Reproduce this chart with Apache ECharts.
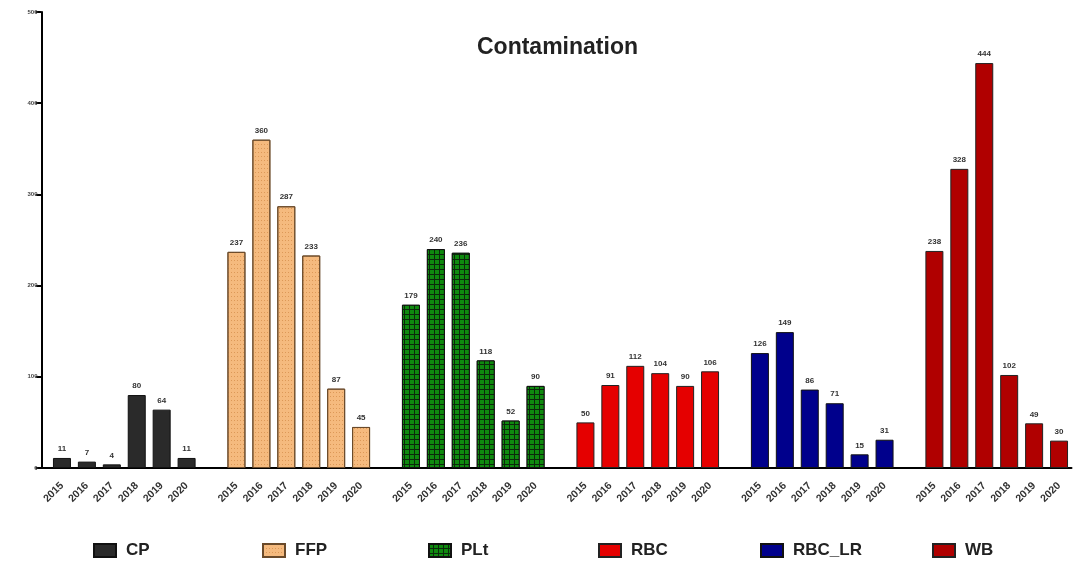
<!DOCTYPE html>
<html>
<head>
<meta charset="utf-8">
<script src="https://cdn.jsdelivr.net/npm/echarts@6/dist/echarts.min.js"></script>
<style>
  html, body { margin: 0; padding: 0; background: #fff; }
  #chart { width: 1075px; height: 565px; }
</style>
</head>
<body>
<div id="chart"></div>
<script>
// data
var years = ['2015', '2016', '2017', '2018', '2019', '2020']
var groupNames = ['CP', 'FFP', 'PLt', 'RBC', 'RBC_LR', 'WB']
var cpValues = [11, 7, 4, 80, 64, 11]
var ffpValues = [237, 360, 287, 233, 87, 45]
var pltValues = [179, 240, 236, 118, 52, 90]
var rbcValues = [50, 91, 112, 104, 90, 106]
var rbcLrValues = [126, 149, 86, 71, 15, 31]
var wbValues = [238, 328, 444, 102, 49, 30]
var yTicks = [0, 100, 200, 300, 400, 500]

var groupValues = [cpValues, ffpValues, pltValues, rbcValues, rbcLrValues, wbValues]

// 颜色 / 样式
var styles = [
  { color: '#2a2a2a', borderColor: '#111' },
  { color: '#f5ba7e', borderColor: '#6a4a2a',
    decal: { symbol: 'rect', symbolSize: 1, color: 'rgba(190,110,40,0.45)', dashArrayX: [1, 2], dashArrayY: [1, 3] } },
  { color: '#0b2a0b', borderColor: '#111',
    decal: { symbol: 'rect', symbolSize: 1, color: '#0f8a0f', dashArrayX: [4, 1], dashArrayY: [4, 1] } },
  { color: '#e50000', borderColor: '#222' },
  { color: '#00008c', borderColor: '#111' },
  { color: '#b00000', borderColor: '#222' }
]
// 图例位置
var legendLefts = [88, 257, 423, 593, 755, 927]

// categories: 6 years per group, one blank slot between groups
var categories = []
groupNames.forEach(function(g, gi) {
  years.forEach(function(y) { categories.push(y) })
  if (gi < groupNames.length - 1) categories.push('')
})

var series = groupNames.map(function(name, gi) {
  var data = categories.map(function() { return '-' })
  groupValues[gi].forEach(function(v, i) { data[gi * 7 + i] = v })
  var st = styles[gi]
  return {
    name: name,
    type: 'bar',
    barWidth: 18,
    barGap: '-100%',
    data: data,
    itemStyle: {
      color: st.color,
      borderColor: st.borderColor,
      borderWidth: 1,
      decal: st.decal
    },
    label: {
      show: true,
      position: 'top',
      distance: 5,
      fontSize: 8,
      fontWeight: 'bold',
      color: '#333',
      fontFamily: 'Liberation Sans'
    }
  }
})

var legends = groupNames.map(function(name, gi) {
  return {
    data: [name],
    left: legendLefts[gi],
    top: 537,
    itemWidth: 22,
    itemHeight: 13,
    icon: 'rect',
    selectedMode: false,
    textStyle: { fontSize: 17, fontWeight: 'bold', color: '#222', padding: [0, 0, 0, 5], fontFamily: 'Liberation Sans' }
  }
})

var chart = echarts.init(document.getElementById('chart'))
chart.setOption({
  animation: false,
  title: {
    text: 'Contamination',
    left: 472,
    top: 31,
    textStyle: { fontSize: 23, fontWeight: 'bold', color: '#222', fontFamily: 'Liberation Sans' }
  },
  legend: legends,
  grid: { left: 49.5, top: 12, width: 1022, height: 456, containLabel: false },
  xAxis: {
    type: 'category',
    data: categories,
    axisLine: { lineStyle: { color: '#000', width: 2 } },
    axisTick: {
      alignWithLabel: true,
      length: 8,
      lineStyle: { color: '#000', width: 2 },
      interval: function(i, v) { return v !== '' }
    },
    axisLabel: {
      interval: 0,
      rotate: 45,
      fontSize: 10.5,
      fontWeight: 'bold',
      color: '#333',
      margin: 16,
      fontFamily: 'Liberation Sans'
    }
  },
  yAxis: {
    type: 'value',
    min: yTicks[0],
    max: yTicks[yTicks.length - 1],
    interval: 100,
    offset: 8,
    splitLine: { show: false },
    axisLine: { show: true, lineStyle: { color: '#000', width: 2 } },
    axisTick: { show: true, length: 6, lineStyle: { color: '#000', width: 2 } },
    axisLabel: { fontSize: 6, fontWeight: 'bold', color: '#444', margin: 4, fontFamily: 'Liberation Sans' }
  },
  graphic: [{
    type: 'line',
    shape: { x1: 40, y1: 468, x2: 50, y2: 468 },
    style: { stroke: '#000', lineWidth: 2 }
  }],
  series: series
})
</script>
</body>
</html>
